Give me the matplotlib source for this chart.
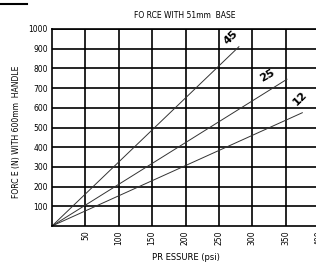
import matplotlib.pyplot as plt
from matplotlib.lines import Line2D

# handle lengths and end points of each line (pressure psi, force N)
labels = ['45', '25', '12']
end_pressure = [280, 352, 375]
end_force = [910, 745, 575]

x_ticks = [50, 100, 150, 200, 250, 300, 350, 400]
y_ticks = [100, 200, 300, 400, 500, 600, 700, 800, 900, 1000]


def main():
    fig = plt.figure(figsize=(3.16, 2.64), dpi=100)
    ax = fig.add_axes([52 / 316, 38 / 264, 267 / 316, 197 / 264])

    for lab, px, fy in zip(labels, end_pressure, end_force):
        ax.plot([0, px], [0, fy], color='#333333', lw=0.7)

    ax.set_xlim(0, 400)
    ax.set_ylim(0, 1000)
    ax.set_xticks(x_ticks)
    ax.set_yticks(y_ticks)
    ax.grid(True, color='black', lw=1.2)
    ax.tick_params(length=0, labelsize=5.5, pad=3)
    ax.tick_params(axis='x', labelrotation=90)
    for s in ax.spines.values():
        s.set_linewidth(1.2)

    # labels on the line ends
    ax.text(268, 955, '45', rotation=45, fontsize=8, fontweight='bold', ha='center', va='center')
    ax.text(322, 765, '25', rotation=30, fontsize=8, fontweight='bold', ha='center', va='center')
    ax.text(371, 650, '12', rotation=45, fontsize=8, fontweight='bold', ha='center', va='center')

    fig.text(185 / 316, 1 - 16 / 264, 'FO RCE WITH 51mm  BASE', fontsize=5.5, ha='center', va='center')
    fig.text(17 / 316, 0.5, 'FORC E (N) WITH 600mm  HANDLE', fontsize=5.5, rotation=90,
             ha='center', va='center')
    fig.text(186 / 316, 1 - 257 / 264, 'PR ESSURE (psi)', fontsize=6, ha='center', va='center')

    # short bar at top left
    fig.add_artist(Line2D([0, 27 / 316], [1 - 4 / 264, 1 - 4 / 264], color='black', lw=1.5))

    fig.savefig('out.png', dpi=100)


if __name__ == "__main__":
    main()
